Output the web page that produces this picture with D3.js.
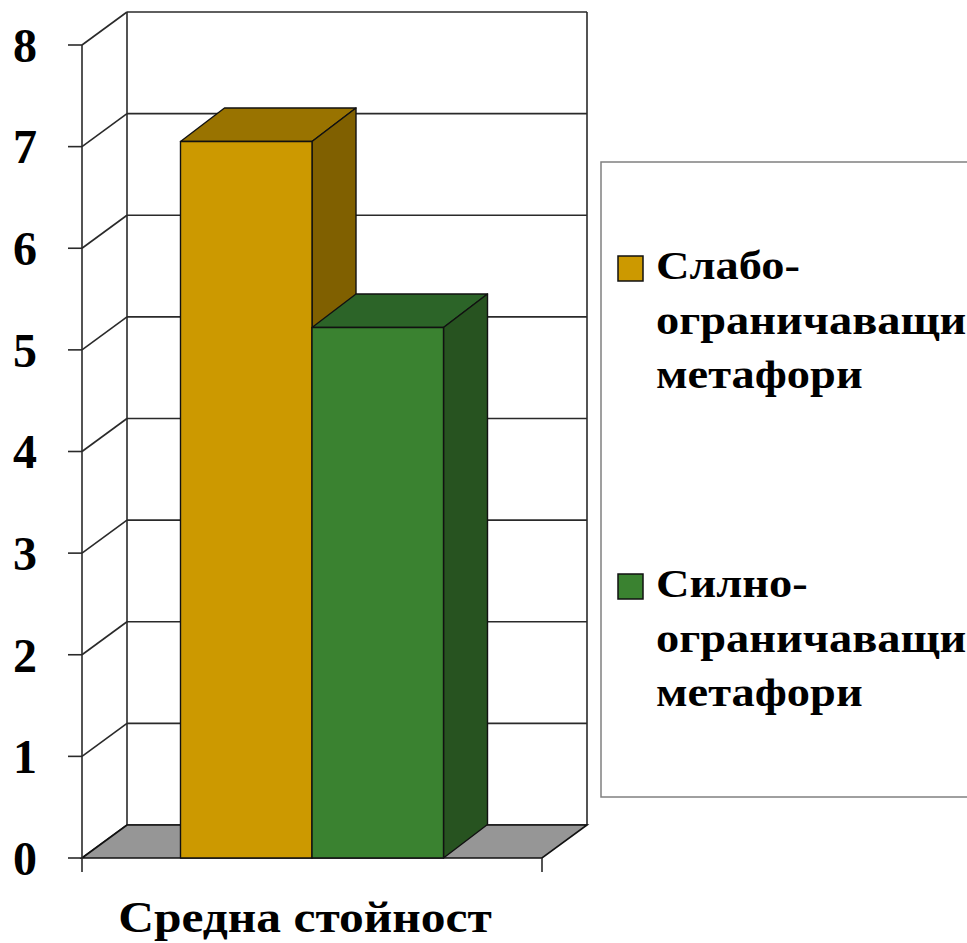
<!DOCTYPE html>
<html><head><meta charset="utf-8">
<script src="https://cdn.jsdelivr.net/npm/d3@7"></script>
<style>body{margin:0;background:#fff}svg{display:block}
text{font-family:"Liberation Serif","DejaVu Serif",serif;font-weight:bold;fill:#000}
</style>
</head><body>
<svg id="c" width="967" height="943"></svg>
<script>
const categories = ["Средна стойност"];
const seriesNames = ["Слабо-ограничаващи метафори", "Силно-ограничаващи метафори"];
const legendLines = [["Слабо-", "ограничаващи", "метафори"], ["Силно-", "ограничаващи", "метафори"]];
const values = [7.05, 5.22];
const yTicks = [0, 1, 2, 3, 4, 5, 6, 7, 8];
const frontColors = ["#CC9900", "#3A8230"];
const topColors = ["#997300", "#2C6428"];
const sideColors = ["#806000", "#275320"];

const svg = d3.select("#c");
const left = 82, right = 542, y0 = 858, y8 = 45;
const dx = 45, dy = 33;

const y = d3.scaleLinear().domain([0, 8]).range([y0, y8]);
const x = d3.scaleBand().domain(categories).range([left, right]).paddingOuter(0.3745).paddingInner(0);
const xs = d3.scaleBand().domain(d3.range(values.length)).range([0, x.bandwidth()]);

const g = svg.append("g");
const lineCol = "#2a2a2a", lw = 1.6;

g.append("line").attr("x1", left + dx).attr("x2", left + dx).attr("y1", y(8) - dy).attr("y2", y(0) - dy).attr("stroke", lineCol).attr("stroke-width", lw);
g.append("line").attr("x1", right + dx).attr("x2", right + dx).attr("y1", y(8) - dy).attr("y2", y(0) - dy).attr("stroke", lineCol).attr("stroke-width", lw);

yTicks.forEach(t => {
  g.append("line").attr("x1", left + dx).attr("x2", right + dx).attr("y1", y(t) - dy).attr("y2", y(t) - dy).attr("stroke", lineCol).attr("stroke-width", lw);
  g.append("line").attr("x1", left).attr("x2", left + dx).attr("y1", y(t)).attr("y2", y(t) - dy).attr("stroke", lineCol).attr("stroke-width", lw);
  g.append("line").attr("x1", left - 14).attr("x2", left).attr("y1", y(t)).attr("y2", y(t)).attr("stroke", lineCol).attr("stroke-width", lw);
});

g.append("polygon")
  .attr("points", [[left, y(0)], [right, y(0)], [right + dx, y(0) - dy], [left + dx, y(0) - dy]].map(p => p.join(",")).join(" "))
  .attr("fill", "#969696").attr("stroke", "#111").attr("stroke-width", lw);

g.append("line").attr("x1", left).attr("x2", left).attr("y1", y(8)).attr("y2", y(0) + 14).attr("stroke", lineCol).attr("stroke-width", lw);
g.append("line").attr("x1", right).attr("x2", right).attr("y1", y(0)).attr("y2", y(0) + 14).attr("stroke", lineCol).attr("stroke-width", lw);

const bdx = 44, bdy = 33.5;
values.forEach((v, i) => {
  const x1 = x(categories[0]) + xs(i), x2 = x1 + xs.bandwidth();
  const yt = y(v), yb = y(0);
  const bg = g.append("g").attr("stroke", "#111").attr("stroke-width", 1.4).attr("stroke-linejoin", "round");
  bg.append("polygon").attr("points", [[x1, yt], [x2, yt], [x2 + bdx, yt - bdy], [x1 + bdx, yt - bdy]].map(p => p.join(",")).join(" ")).attr("fill", topColors[i]);
  bg.append("polygon").attr("points", [[x2, yt], [x2 + bdx, yt - bdy], [x2 + bdx, yb - bdy], [x2, yb]].map(p => p.join(",")).join(" ")).attr("fill", sideColors[i]);
  bg.append("rect").attr("x", x1).attr("y", yt).attr("width", x2 - x1).attr("height", yb - yt).attr("fill", frontColors[i]);
});

yTicks.forEach(t => {
  svg.append("text").attr("x", 37).attr("y", y(t)).attr("dy", "0.35em").attr("text-anchor", "end")
    .style("font-size", "48px").text(t);
});

svg.append("text").attr("text-anchor", "middle")
  .attr("transform", `translate(${x(categories[0]) + x.bandwidth() / 2 - 7},932) scale(1.1,1)`)
  .style("font-size", "45px").text(categories[0]);

svg.append("rect").attr("x", 601).attr("y", 162).attr("width", 420).attr("height", 635)
  .attr("fill", "#fff").attr("stroke", "#808080").attr("stroke-width", 1.5);
const legTop = [256, 574];
legendLines.forEach((lines, i) => {
  svg.append("rect").attr("x", 618).attr("y", legTop[i]).attr("width", 25).attr("height", 25)
    .attr("fill", frontColors[i]).attr("stroke", "#111").attr("stroke-width", 1.5);
  lines.forEach((ln, j) => {
    svg.append("text").attr("transform", `translate(656,${legTop[i] + 23 + j * 54.5}) scale(1.19,1)`)
      .style("font-size", "39px").text(ln);
  });
});
</script>
</body></html>
